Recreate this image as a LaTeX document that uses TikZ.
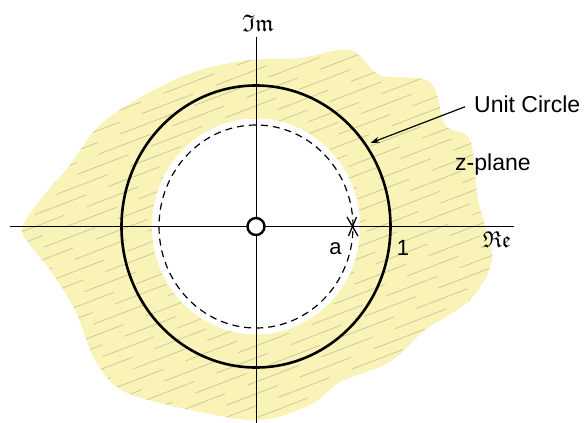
\documentclass[tikz,border=0pt]{standalone}
\usepackage{fontspec}
\setmainfont{Liberation Sans}
\usepackage{amsfonts}
\usetikzlibrary{arrows.meta}
\definecolor{pencil}{RGB}{249,243,184}
\definecolor{hatchgray}{RGB}{140,140,115}
\begin{document}
\begin{tikzpicture}[x=1pt,y=-1pt,
  axis/.style={line width=1.3pt},
  unitcirc/.style={line width=2.6pt},
  dashcirc/.style={line width=1.2pt, dash pattern=on 7pt off 5pt},
  lbl/.style={font=\fontsize{22}{26}\selectfont, inner sep=0pt},
  biglbl/.style={font=\fontsize{23}{27}\selectfont, inner sep=0pt},
  axlbl/.style={inner sep=0pt},
  hatch/.style={draw=hatchgray, line width=0.7pt, opacity=0.45},
  blob/.style={smooth cycle, tension=0.55}]
\useasboundingbox (0,0) rectangle (584,423);
% coloured-pencil shading of the z-plane
\def\blobpts{(22,228) (40,200) (70,165) (100,125) (150,92) (200,70) (250,60) (300,58) (350,50) (380,75) (430,82) (445,125) (470,140) (478,200) (492,258) (470,300) (425,330) (390,362) (340,382) (310,405) (260,420) (200,412) (125,392) (95,360) (75,310) (50,270) (30,245)}
\fill[pencil] plot[blob] coordinates {\blobpts};
\begin{scope}
  \clip plot[blob] coordinates {\blobpts};
  \foreach \k in {12,...,46}
    \draw[hatch, dash pattern=on 55pt off 24pt, dash phase={\k*23pt}] (0,{\k*12}) -- ++(600,-230);
\end{scope}
\fill[white] (256,226.5) ellipse [x radius=104pt, y radius=108pt];
% geometry
\coordinate (O) at (256,226.5);
\coordinate (xl) at (10,226.5);
\coordinate (xr) at (514,226.5);
\coordinate (yt) at (256.5,37);
\coordinate (yb) at (256.5,423);
\draw[axis] (xl) -- (xr);
\draw[axis] (yt) -- (yb);
\draw[dashcirc] (O) ellipse [x radius=97pt, y radius=101.5pt];
\draw[unitcirc] (O) ellipse [x radius=134.5pt, y radius=141pt];
\node[draw, circle, line width=2.4pt, fill=white, minimum size=17pt, inner sep=0pt] (zero) at (O) {};
% pole at a
\coordinate (pole) at (352.5,226.5);
\draw[line width=1.3pt] (pole) ++(-5.5,-9.5) -- ++(11,19);
\draw[line width=1.3pt] (pole) ++(4,-9.5) -- ++(-8,19);
% labels
\node[axlbl, anchor=base] (im) at (258,31) {\scalebox{2.4}{$\mathfrak{Im}$}};
\node[axlbl, anchor=base] (re) at (497,247) {\scalebox{2.3}{$\mathfrak{Re}$}};
\node[lbl, anchor=base] (alab) at (335.5,254) {a};
\node[lbl, anchor=base] (onelab) at (403,255) {1};
\node[biglbl, anchor=base west] (uc) at (474,112) {Unit Circle};
\node[biglbl, anchor=base west] (zp) at (455,170) {z-plane};
\coordinate (tip) at (370.5,143);
\draw[line width=1.2pt, -{Stealth[length=9pt,width=6pt]}] (uc.west) ++(-9,3) -- (tip);
\end{tikzpicture}
\end{document}
